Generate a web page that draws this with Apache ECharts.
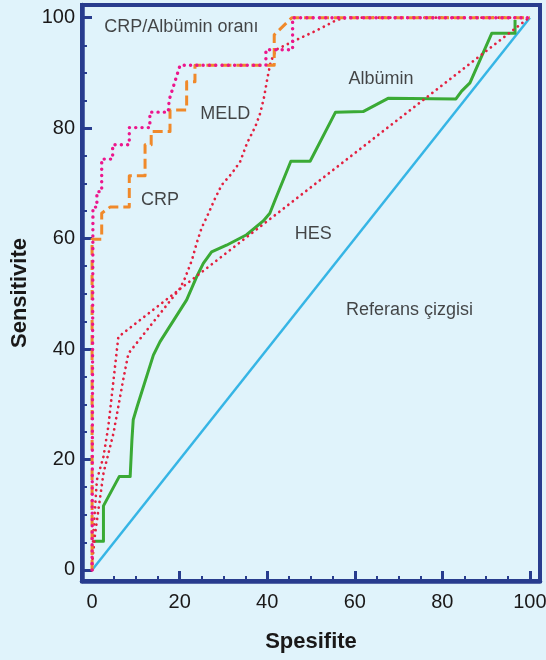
<!DOCTYPE html>
<html>
<head>
<meta charset="utf-8">
<script src="https://cdn.jsdelivr.net/npm/echarts@6/dist/echarts.min.js"></script>
<style>
html,body{margin:0;padding:0;background:#e0f3fb;}
#chart{width:546px;height:660px;}
</style>
</head>
<body>
<div id="chart"></div>
<script>
// ---- data (x = Spesifite, y = Sensitivite) ----
const referansLine = [[0,0],[100,100]];
const albuminCurve = [[0.5,5.2],[2.6,5.2],[2.6,11.6],[6.2,16.9],[8.7,16.9],[9.1,23.5],[9.4,27.2],[10.3,29.6],[14,38.9],[15.5,41.3],[21.6,48.9],[23.9,53.1],[25.4,55.5],[27.3,57.6],[30.7,58.8],[35.3,60.7],[39.1,63.2],[40.6,64.6],[41.8,67],[45.4,74],[49.8,74],[55.6,82.9],[61.9,83],[67.6,85.4],[83.1,85.3],[84.4,86.7],[86.3,88.2],[91.3,97.2],[96.6,97.2],[96.6,99.6]];
const crpCurve = [[0,0],[0,59.9],[2.2,59.9],[2.2,64.6],[4.1,65.7],[8.5,65.7],[8.5,71.4],[12.1,71.4],[12.1,77],[13.5,77],[13.5,79.4],[17.8,79.4],[17.8,83.3],[21.6,83.3],[21.6,88.4],[23.5,88.4],[23.5,91.4],[41.6,91.4],[41.6,96.9],[45.6,100],[100,100]];
const crpAlbuminCurve = [[0,0],[0.2,65.7],[1.1,65.7],[1.1,68.5],[2.2,68.5],[2.2,74.4],[4.7,74.4],[4.7,77],[8.5,77],[8.5,80.1],[13.2,80.1],[13.2,82.9],[17.4,82.9],[17.6,85.1],[20.1,91.4],[39.7,91.4],[39.7,94.2],[45.8,94.2],[45.8,100],[99.5,100]];
const meldCurve = [[0,0],[0,1.2],[0.7,6.6],[2.6,17.5],[4.9,24.8],[6,29.6],[7.1,34.4],[8.3,39.2],[20.1,51],[21.2,52.8],[22.8,56.1],[23.9,59.2],[25,61.9],[26.6,64.6],[28.1,67.3],[29.6,69.7],[31.9,71.8],[33.8,73.9],[35.4,77.3],[37.3,80.3],[38.4,82.7],[39.3,85.7],[40.1,89.3],[40.8,92],[42,94.2],[46.7,96],[51.3,97.7],[55.9,99.6],[58.5,100],[99,100]];
const hesCurve = [[0,0],[0,0.6],[0.3,6.6],[1.1,16.3],[2.6,20.5],[3.7,25.9],[4.9,34.4],[6,42.2],[99.8,100]];
const axisTickLabels = [0,20,40,60,80,100];
const majorTicksX = [20,40,60,80,100];
const majorTicksY = [0,20,40,60,80,100];
const minorTicks = [5,10,15,25,30,35,45,50,55,65,70,75,85,90,95];
const annotations = [
  ['CRP/Albümin oranı', 20.4, 98.4],
  ['MELD', 30.4, 82.5],
  ['CRP', 15.5, 67],
  ['Albümin', 66, 88.9],
  ['HES', 50.5, 60.8],
  ['Referans çizgisi', 72.5, 47.1]
];

// ---- styles ----
const NAVY = '#283c8e';
const TXT = '#1a1818';
const FONT = "'Liberation Sans', Arial, sans-serif";

const chart = echarts.init(document.getElementById('chart'), null, {renderer:'canvas'});

function mkAxis(dim, isMain) {
  const base = {
    type: 'value',
    gridIndex: 0,
    min: dim === 'x' ? -2.3 : -2,
    max: 102.3,
    splitLine: {show:false},
    position: dim === 'x' ? 'bottom' : 'left',
  };
  if (isMain) {
    return Object.assign(base, {
      axisLine: {show:true, onZero:false, lineStyle:{color:NAVY, width:4.5}},
      axisTick: {show:true, inside:true, length:10, lineStyle:{color:NAVY, width:3}, customValues: dim === 'x' ? majorTicksX : majorTicksY},
      axisLabel: {show:true, customValues: axisTickLabels, margin: dim === 'x' ? 11 : 7, fontSize:20, fontFamily:FONT, color:TXT},
      name: dim === 'x' ? 'Spesifite' : 'Sensitivite',
      nameLocation: 'middle',
      nameGap: dim === 'x' ? 50 : 51,
      nameTextStyle: {fontSize:22, fontWeight:'bold', fontFamily:FONT, color:TXT},
      z: 5
    });
  }
  return Object.assign(base, {
    axisLine: {show:false, onZero:false},
    axisTick: {show:true, inside:true, length:5, lineStyle:{color:NAVY, width:2}, customValues: minorTicks},
    axisLabel: {show:false},
    z: 5
  });
}

function lineSeries(name, data, color, width, type, cap, z) {
  return {
    name, type:'line', data, symbol:'none', smooth:false, z,
    xAxisIndex:0, yAxisIndex:0,
    lineStyle:{color, width, type, cap: cap || 'butt', join:'round'},
    emphasis:{disabled:true}, silent:true
  };
}

chart.setOption({
  animation:false,
  backgroundColor:'#e0f3fb',
  grid:{left:82, right:6, top:5, bottom:79, show:true, borderColor:NAVY, borderWidth:4, backgroundColor:'transparent', containLabel:false, outerBoundsMode:'none'},
  xAxis:[mkAxis('x', true), mkAxis('x', false)],
  yAxis:[mkAxis('y', true), mkAxis('y', false)],
  series:[
    lineSeries('Referans çizgisi', referansLine, '#36b5e5', 2.5, 'solid', 'butt', 2),
    lineSeries('Albümin', albuminCurve, '#3aaa35', 3, 'solid', 'butt', 3),
    lineSeries('HES', hesCurve, '#e3203f', 2.7, [0.1, 5.6], 'round', 4),
    lineSeries('MELD', meldCurve, '#e3203f', 2.7, [0.1, 5.6], 'round', 4),
    lineSeries('CRP', crpCurve, '#f0892a', 3, [10, 5], 'butt', 5),
    lineSeries('CRP/Albümin oranı', crpAlbuminCurve, '#ec168c', 3.4, [0.1, 6.2], 'round', 6),
    {
      type:'scatter', name:'labels', symbolSize:0, silent:true, z:10,
      data: annotations.map(a => [a[1], a[2], a[0]]),
      label:{show:true, position:'inside', formatter: p => p.data[2], fontSize:18, fontFamily:FONT, color:TXT}
    }
  ]
});
</script>
</body>
</html>
